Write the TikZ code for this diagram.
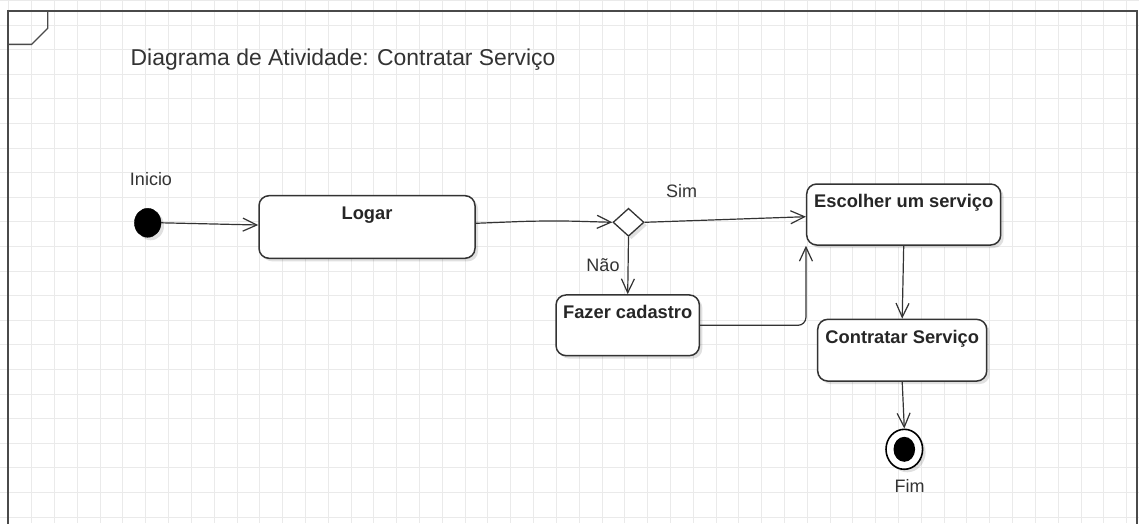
\documentclass[tikz,border=0pt]{standalone}
\usepackage{fontspec}
\setmainfont{Liberation Sans}
\usetikzlibrary{arrows.meta,shadows,shapes.geometric,calc}

\definecolor{ink}{HTML}{333333}
\definecolor{gridc}{HTML}{EAEAEA}
\definecolor{framec}{HTML}{4A4A4A}

\tikzset{
  soft/.style={drop shadow={shadow xshift=3pt, shadow yshift=-3pt, opacity=0.12, fill=black}},
  actbox/.style={draw=ink, line width=1.5pt, rounded corners=10pt, fill=white, soft,
                 inner sep=0pt},
  acttext/.style={font=\bfseries\fontsize{18.3}{20}\selectfont, text=black!85, anchor=base,
                  inner sep=0pt},
  plain/.style={font=\fontsize{18}{20}\selectfont, text=ink, inner sep=0pt},
  flow/.style={draw=ink, line width=1.2pt, -{Straight Barb[length=14pt,width=13pt,line width=1.2pt]}},
  decision/.style={diamond, draw=ink, line width=1.3pt, fill=white, soft, inner sep=0pt,
                   minimum width=31pt, minimum height=28pt},
}

\begin{document}
\begin{tikzpicture}[x=1pt, y=-1pt]
\useasboundingbox (0,0) rectangle (1139,523);
\fill[white] (0,0) rectangle (1139,523);

% background grid
\foreach \k in {-1,...,49} {
  \draw[gridc, line width=0.9pt] ({31.7+22.81*\k},0) -- ({31.7+22.81*\k},523);
}
\foreach \k in {-1,...,21} {
  \draw[gridc, line width=0.9pt] (0,{25+24.6*\k}) -- (1139,{25+24.6*\k});
}

% diagram frame with its name tag corner
\draw[framec, line width=1.8pt] (8,530) -- (8,11) -- (1137,11) -- (1137,530);
\draw[framec, line width=1.4pt] (8,11) -- (47.7,11) -- (47.7,28.3) -- (31.7,44.3) -- (8,44.3);

\node[font=\fontsize{22.9}{26}\selectfont, text=ink, anchor=base west, inner sep=0pt]
  (title) at (130.5,65) {Diagrama de Atividade: Contratar Serviço};

% initial node
\node[ellipse, fill=black, draw=black, minimum width=26.6pt, minimum height=29pt,
      inner sep=0pt, soft] (init) at (147.7,222.8) {};
\node[plain, anchor=base] (lblinit) at (151,185.5) {Inicio};

% actions
\node[actbox, minimum width=216pt, minimum height=62.6pt] (logar) at (367,227) {};
\node[acttext] (tlogar) at ([yshift=-24.5pt]logar.north) {Logar};

\node[decision] (dec) at (628.5,222.3) {};

\node[actbox, minimum width=143.3pt, minimum height=60.7pt] (fazer) at (627.7,325.3) {};
\node[acttext] (tfazer) at ([yshift=-24.5pt]fazer.north) {Fazer cadastro};

\node[actbox, minimum width=194pt, minimum height=61pt] (esc) at (903.7,214.5) {};
\node[acttext] (tesc) at ([yshift=-24.5pt]esc.north) {Escolher um serviço};

\node[actbox, minimum width=169pt, minimum height=61.7pt] (contr) at (902.2,350.2) {};
\node[acttext] (tcontr) at ([yshift=-24.5pt]contr.north) {Contratar Serviço};

% final node
\node[ellipse, draw=black, line width=1.6pt, fill=white, minimum width=36.6pt,
      minimum height=40pt, inner sep=0pt, soft] (fim) at (904.3,449.3) {};
\node[ellipse, fill=black, minimum width=21.6pt, minimum height=25pt, inner sep=0pt]
  (fimdot) at (fim.center) {};
\node[plain, anchor=base] (lblfim) at (909.5,492.5) {Fim};

% guard labels
\node[plain, anchor=base] (lblsim) at (681.5,197.5) {Sim};
\node[plain, anchor=base] (lblnao) at (603,271.5) {Não};

% control flows
\coordinate (bend) at (548,220.4);
\draw[flow] (init.east) -- ([yshift=2pt]logar.west);
\draw[flow, rounded corners=30pt] ([yshift=3.7pt]logar.east) -- (bend) -- (dec.west);
\draw[flow] (dec.east) -- ([yshift=-2.2pt]esc.west);
\draw[flow] (dec.south) -- (fazer.north);
\draw[flow, rounded corners=8pt] (fazer.east) -| (esc.south west);
\draw[flow] (esc.south) -- (contr.north);
\draw[flow] (contr.south) -- (fim.north);
\end{tikzpicture}
\end{document}
